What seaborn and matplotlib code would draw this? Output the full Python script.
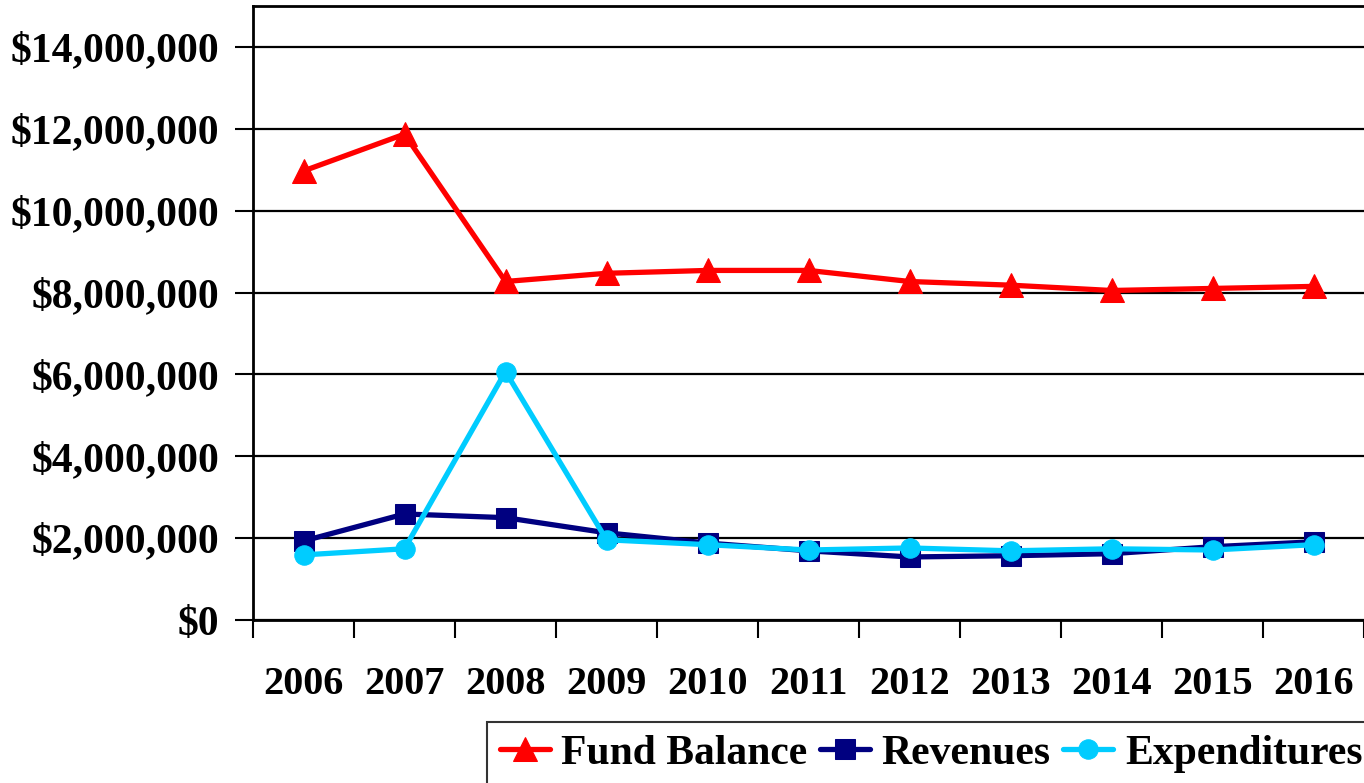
import numpy as np
import pandas as pd
import seaborn as sns
import matplotlib.pyplot as plt
from matplotlib.ticker import FuncFormatter, FixedLocator

years = ["2006", "2007", "2008", "2009", "2010", "2011", "2012", "2013", "2014", "2015", "2016"]
fund_balance = [10.97, 11.87, 8.27, 8.47, 8.54, 8.54, 8.27, 8.18, 8.05, 8.10, 8.15]
revenues = [1.93, 2.59, 2.50, 2.13, 1.88, 1.69, 1.54, 1.57, 1.62, 1.79, 1.91]
expenditures = [1.59, 1.74, 6.07, 1.96, 1.84, 1.71, 1.76, 1.69, 1.74, 1.71, 1.84]

sns.set_style("white")
plt.rcParams['font.family'] = ['Liberation Serif', 'DejaVu Serif']
plt.rcParams['font.weight'] = 'bold'
plt.rcParams['text.color'] = 'black'
plt.rcParams['xtick.color'] = 'black'
plt.rcParams['ytick.color'] = 'black'
plt.rcParams['xtick.bottom'] = True
plt.rcParams['ytick.left'] = True

df = pd.DataFrame({
    "pos": list(range(len(years))) * 3,
    "value": np.array(fund_balance + revenues + expenditures) * 1e6,
    "series": ["Fund Balance"] * 11 + ["Revenues"] * 11 + ["Expenditures"] * 11,
})

fig = plt.figure(figsize=(13.64, 7.83), dpi=100)
ax = fig.add_axes([253 / 1364, 1 - 620 / 783, 1 - 253 / 1364, 614 / 783])

styles = {
    "Fund Balance": ("#FF0000", "^", 17),
    "Revenues": ("#000080", "s", 15),
    "Expenditures": ("#00CCFF", "o", 14),
}
for name, (col, mk, ms) in styles.items():
    sub = df[df["series"] == name]
    sns.lineplot(data=sub, x="pos", y="value", ax=ax, color=col, marker=mk,
                 markersize=ms, markeredgecolor=col, linewidth=3.8, label=name)

ax.set_xlim(-0.5, 10.5)
ax.set_ylim(0, 15e6)
ax.set_xlabel("")
ax.set_ylabel("")

ax.yaxis.set_major_locator(FixedLocator(np.arange(0, 14.1e6, 2e6)))
ax.yaxis.set_major_formatter(FuncFormatter(lambda v, p: "${:,.0f}".format(v)))
ax.grid(axis="y", color="black", linewidth=1.6)

ax.set_xticks(np.arange(-0.5, 10.6, 1.0))
ax.set_xticklabels([])
ax.set_xticks(np.arange(0, 11), minor=True)
ax.set_xticklabels(years, minor=True)
ax.tick_params(axis="x", which="major", direction="out", length=13, width=1.5, color="black")
ax.tick_params(axis="x", which="minor", length=0, pad=33, labelsize=29)
ax.tick_params(axis="y", direction="out", length=13, width=1.5, color="black", labelsize=30, pad=11)
for lab in ax.get_xticklabels(minor=True) + ax.get_yticklabels():
    lab.set_fontweight("bold")
    lab.set_color("black")

for s in ["left", "bottom", "top"]:
    ax.spines[s].set_visible(True)
    ax.spines[s].set_color("black")
    ax.spines[s].set_linewidth(2)
ax.spines["right"].set_visible(False)
ax.set_axisbelow(True)

leg = ax.legend(loc="upper left", bbox_to_anchor=(487 / 1364, 1 - 722 / 783), bbox_transform=fig.transFigure,
                ncol=3, frameon=True, fancybox=False, edgecolor="black",
                handlelength=1.2, handletextpad=0.28, columnspacing=0.3, borderpad=0.3,
                borderaxespad=0, prop={"weight": "bold", "size": 30})
leg.get_frame().set_linewidth(1.5)
for t in leg.get_texts():
    t.set_color("black")

fig.savefig("out.png", dpi=100)
